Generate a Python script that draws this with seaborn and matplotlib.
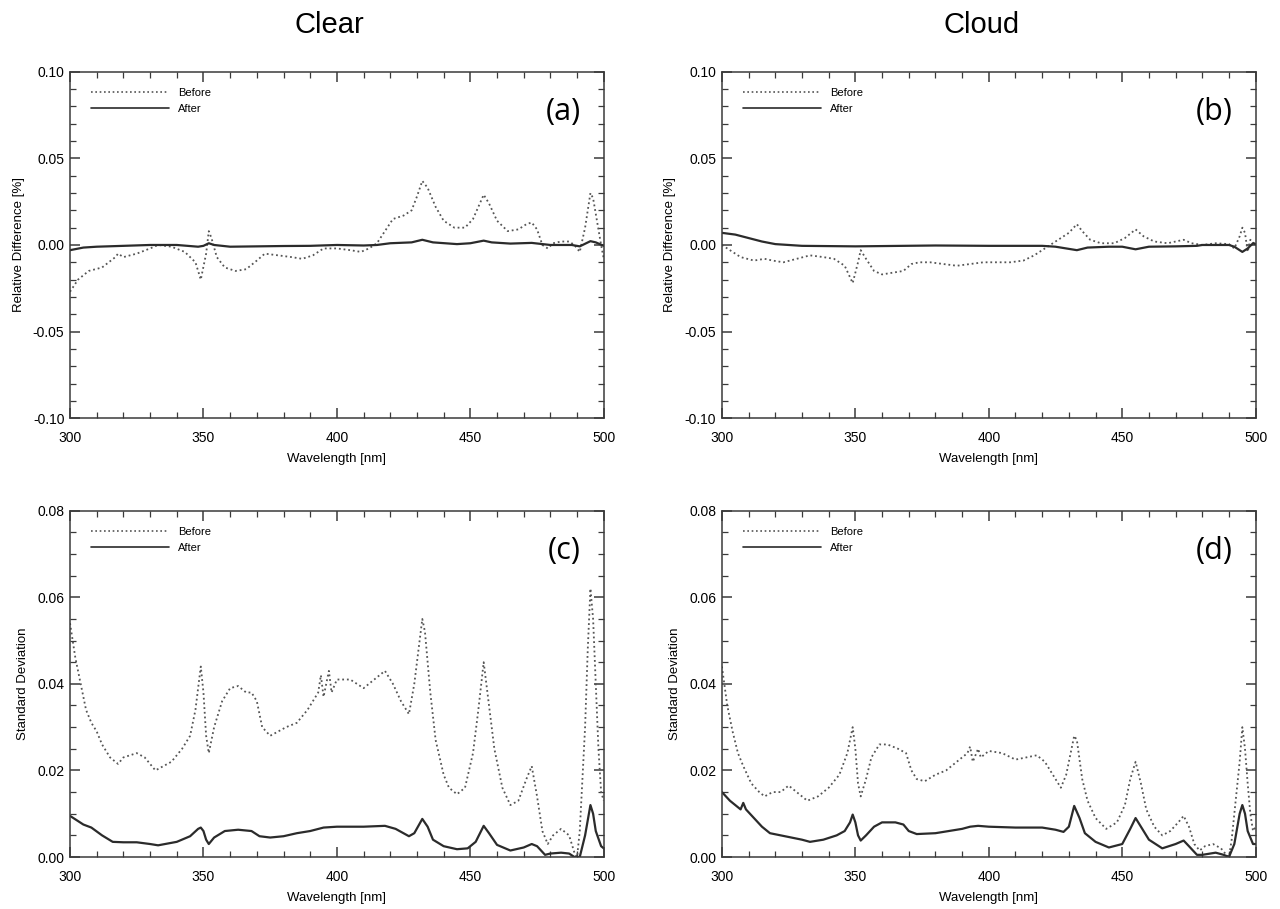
import numpy as np
import pandas as pd

import matplotlib
matplotlib.use("Agg")
import matplotlib.pyplot as plt
from matplotlib.ticker import MultipleLocator, FormatStrFormatter
import seaborn as sns

# ======================================================
# DATA
# ======================================================

# (a) Clear - relative difference
a_before_wl = [300, 303, 307, 312, 317, 318, 320, 325, 330, 333, 338, 343, 347, 349,
               351, 352, 353, 355, 358, 362, 366, 370, 373, 378, 383, 387, 391, 395,
               400, 405, 409, 412, 415, 418, 421, 425, 428, 430, 432, 434, 437, 440,
               444, 448, 451, 453, 455, 457, 460, 464, 468, 471, 473, 475, 477, 479,
               481, 484, 487, 489, 491, 493, 495, 496, 497, 499, 500]
a_before = [-0.027, -0.020, -0.015, -0.013, -0.007, -0.005, -0.007, -0.005, -0.002, 0.000,
            -0.001, -0.004, -0.010, -0.020, -0.005, 0.008, 0.004, -0.007, -0.013, -0.015,
            -0.014, -0.009, -0.005, -0.006, -0.007, -0.008, -0.006, -0.002, -0.002, -0.003,
            -0.004, -0.002, 0.001, 0.008, 0.015, 0.017, 0.020, 0.028, 0.037, 0.033,
            0.022, 0.014, 0.010, 0.010, 0.015, 0.022, 0.029, 0.024, 0.014, 0.008,
            0.009, 0.012, 0.013, 0.009, 0.000, -0.002, 0.001, 0.002, 0.002, 0.000,
            -0.004, 0.010, 0.030, 0.027, 0.018, 0.000, -0.008]
a_after_wl = [300, 305, 310, 320, 330, 340, 348, 350, 352, 354, 360, 370, 380, 390, 400,
              410, 415, 420, 428, 432, 436, 445, 450, 455, 458, 465, 473, 480, 488, 491,
              495, 497, 500]
a_after = [-0.003, -0.0015, -0.001, -0.0005, 0.0, 0.0, -0.001, -0.0005, 0.001, 0.0,
           -0.001, -0.0008, -0.0006, -0.0005, 0.0, -0.0003, 0.0, 0.001, 0.0015, 0.003,
           0.0015, 0.0005, 0.001, 0.0025, 0.0015, 0.0008, 0.0012, 0.0, 0.0, -0.0008,
           0.0022, 0.0015, -0.0005]

# (b) Cloud - relative difference
b_before_wl = [300, 303, 307, 312, 316, 319, 323, 328, 333, 338, 342, 346, 349, 351,
               352, 354, 357, 360, 364, 368, 371, 374, 378, 383, 388, 393, 398, 403,
               408, 413, 417, 420, 423, 426, 430, 433, 435, 438, 442, 447, 451, 455,
               458, 462, 467, 473, 476, 480, 485, 490, 492, 494, 495, 496, 497, 498, 500]
b_before = [0.000, -0.003, -0.007, -0.009, -0.008, -0.009, -0.010, -0.008, -0.006, -0.007,
            -0.008, -0.012, -0.022, -0.010, -0.003, -0.008, -0.015, -0.017, -0.016, -0.015,
            -0.011, -0.010, -0.010, -0.011, -0.012, -0.011, -0.010, -0.010, -0.010, -0.009,
            -0.006, -0.003, 0.000, 0.003, 0.007, 0.012, 0.008, 0.003, 0.001, 0.001,
            0.004, 0.009, 0.005, 0.002, 0.001, 0.003, 0.001, 0.000, 0.001, 0.0005,
            -0.002, 0.005, 0.010, 0.007, -0.004, 0.003, 0.000]
b_after_wl = [300, 305, 310, 315, 320, 325, 330, 350, 380, 400, 420, 425, 433, 437, 445,
              450, 455, 460, 470, 478, 480, 490, 492, 495, 497, 499, 500]
b_after = [0.007, 0.006, 0.004, 0.002, 0.0005, 0.0, -0.0005, -0.0008, -0.0003, -0.0005,
           -0.0005, -0.001, -0.003, -0.0015, -0.001, -0.001, -0.0025, -0.001, -0.0008,
           -0.0005, 0.0, 0.0, -0.001, -0.004, -0.002, 0.001, 0.0005]

# (c) Clear - standard deviation
c_before_wl = [300, 302, 304, 306, 308, 310, 312, 315, 318, 320, 325, 328, 332, 335, 338,
               342, 345, 347, 349, 350, 351, 352, 354, 357, 360, 363, 366, 368, 370, 372,
               375, 378, 381, 385, 389, 393, 394, 395, 397, 398, 400, 405, 410, 414, 418,
               421, 424, 427, 429, 431, 432, 433, 435, 437, 440, 442, 445, 448, 451, 453,
               455, 457, 459, 462, 465, 468, 471, 473, 475, 477, 479, 481, 484, 487, 489,
               490, 491, 492, 493, 494, 495, 496, 497, 498, 499, 500]
c_before = [0.054, 0.046, 0.040, 0.034, 0.031, 0.029, 0.026, 0.023, 0.0215, 0.023,
            0.024, 0.023, 0.020, 0.021, 0.022, 0.025, 0.028, 0.034, 0.044, 0.038,
            0.028, 0.024, 0.030, 0.036, 0.039, 0.0395, 0.038, 0.038, 0.036, 0.030,
            0.028, 0.029, 0.030, 0.031, 0.034, 0.038, 0.042, 0.037, 0.043, 0.038,
            0.041, 0.041, 0.039, 0.041, 0.043, 0.040, 0.036, 0.033, 0.040, 0.050,
            0.055, 0.052, 0.038, 0.027, 0.019, 0.016, 0.0145, 0.016, 0.024, 0.034,
            0.045, 0.035, 0.025, 0.016, 0.012, 0.013, 0.018, 0.021, 0.014, 0.006,
            0.003, 0.005, 0.0065, 0.005, 0.001, 0.000, 0.006, 0.018, 0.030, 0.048,
            0.062, 0.055, 0.040, 0.025, 0.015, 0.013]
c_after_wl = [300, 305, 308, 312, 316, 320, 325, 330, 333, 340, 345, 348, 349, 350, 351,
              352, 354, 358, 363, 368, 371, 375, 380, 385, 390, 395, 400, 410, 418, 422,
              427, 429, 432, 434, 436, 440, 445, 449, 452, 455, 457, 460, 465, 470, 473,
              475, 478, 480, 484, 487, 489, 491, 493, 495, 496, 497, 499, 500]
c_after = [0.0095, 0.0075, 0.0068, 0.005, 0.0035, 0.0034, 0.0034, 0.003, 0.0027, 0.0035,
           0.0048, 0.0065, 0.0068, 0.006, 0.004, 0.003, 0.0045, 0.006, 0.0063, 0.006,
           0.0048, 0.0045, 0.0048, 0.0055, 0.006, 0.0068, 0.007, 0.007, 0.0072, 0.0065,
           0.0048, 0.0055, 0.0088, 0.007, 0.004, 0.0025, 0.0018, 0.002, 0.0035, 0.0072,
           0.0055, 0.0028, 0.0015, 0.0022, 0.003, 0.0025, 0.0005, 0.0008, 0.001, 0.0008,
           0.0, 0.0, 0.005, 0.012, 0.010, 0.006, 0.0025, 0.002]

# (d) Cloud - standard deviation
d_before_wl = [300, 302, 304, 306, 308, 311, 314, 316, 319, 322, 325, 328, 332, 336, 340,
               344, 347, 349, 350, 351, 352, 354, 356, 359, 362, 366, 369, 371, 373, 376,
               380, 384, 388, 392, 393, 394, 396, 397, 400, 405, 410, 414, 418, 421, 424,
               427, 429, 431, 432, 433, 435, 437, 440, 444, 448, 451, 453, 455, 457, 459,
               462, 465, 468, 471, 473, 475, 477, 479, 481, 484, 487, 489, 490, 491, 492,
               494, 495, 496, 497, 498, 499, 500]
d_before = [0.044, 0.035, 0.029, 0.024, 0.021, 0.017, 0.015, 0.014, 0.015, 0.015,
            0.0165, 0.015, 0.013, 0.014, 0.016, 0.019, 0.024, 0.030, 0.025, 0.017,
            0.014, 0.018, 0.023, 0.026, 0.026, 0.025, 0.024, 0.020, 0.018, 0.0175,
            0.019, 0.020, 0.022, 0.024, 0.0255, 0.022, 0.025, 0.023, 0.0245, 0.024,
            0.0225, 0.023, 0.0235, 0.022, 0.019, 0.016, 0.019, 0.025, 0.028, 0.027,
            0.018, 0.013, 0.009, 0.0065, 0.008, 0.012, 0.018, 0.022, 0.017, 0.011,
            0.007, 0.005, 0.006, 0.008, 0.0095, 0.007, 0.003, 0.0015, 0.0025, 0.003,
            0.002, 0.0005, 0.000, 0.004, 0.010, 0.022, 0.030, 0.025, 0.017, 0.010,
            0.006, 0.007]
d_after_wl = [300, 303, 306, 307, 308, 309, 312, 315, 318, 322, 326, 330, 333, 338, 343,
              346, 348, 349, 350, 351, 352, 354, 357, 360, 365, 368, 370, 373, 380, 385,
              390, 393, 396, 400, 410, 420, 425, 428, 430, 432, 434, 436, 440, 445, 450,
              453, 455, 457, 460, 465, 470, 473, 475, 478, 480, 485, 488, 490, 492, 494,
              495, 496, 497, 499, 500]
d_after = [0.015, 0.013, 0.0115, 0.011, 0.0125, 0.011, 0.009, 0.007, 0.0055, 0.005,
           0.0045, 0.004, 0.0035, 0.004, 0.005, 0.006, 0.008, 0.0098, 0.008, 0.005,
           0.0038, 0.005, 0.007, 0.008, 0.008, 0.0075, 0.006, 0.0053, 0.0055, 0.006,
           0.0065, 0.007, 0.0072, 0.007, 0.0068, 0.0068, 0.0063, 0.0058, 0.007, 0.0118,
           0.009, 0.0055, 0.0035, 0.0022, 0.003, 0.0065, 0.009, 0.007, 0.004, 0.002,
           0.003, 0.0038, 0.0025, 0.0005, 0.0005, 0.001, 0.0005, 0.0, 0.003, 0.010,
           0.012, 0.010, 0.006, 0.003, 0.003]

column_titles = ["Clear", "Cloud"]
panel_labels = ["(a)", "(b)", "(c)", "(d)"]

# ======================================================
# STYLE
# ======================================================

sns.set_theme(style="ticks")
plt.rcParams["font.family"] = ["Liberation Sans", "DejaVu Sans"]
plt.rcParams["axes.linewidth"] = 1.1
plt.rcParams["axes.edgecolor"] = "#3a3a3a"
plt.rcParams["text.color"] = "black"
plt.rcParams["axes.labelcolor"] = "black"
plt.rcParams["xtick.labelcolor"] = "black"
plt.rcParams["ytick.labelcolor"] = "black"

BEFORE_COLOR = "#555555"
AFTER_COLOR = "#2b2b2b"


def draw_panel(ax, before_wl, before, after_wl, after, label, ylabel, ylim, major, minor):

    df_before = pd.DataFrame({"wl": before_wl, "val": before})
    df_after = pd.DataFrame({"wl": after_wl, "val": after})

    sns.lineplot(data=df_before, x="wl", y="val", ax=ax, color=BEFORE_COLOR,
                 linestyle=(0, (1, 1.6)), linewidth=1.3, label="Before")
    sns.lineplot(data=df_after, x="wl", y="val", ax=ax, color=AFTER_COLOR,
                 linewidth=1.6, label="After")

    ax.set_xlim(300, 500)
    ax.set_ylim(*ylim)
    ax.xaxis.set_major_locator(MultipleLocator(50))
    ax.xaxis.set_minor_locator(MultipleLocator(10))
    ax.yaxis.set_major_locator(MultipleLocator(major))
    ax.yaxis.set_minor_locator(MultipleLocator(minor))
    ax.yaxis.set_major_formatter(FormatStrFormatter("%.2f"))

    ax.tick_params(which="both", direction="in", top=True, right=True,
                   labelsize=10, color="#3a3a3a")
    ax.tick_params(which="major", length=7, width=1.1)
    ax.tick_params(axis="x", which="major", pad=9)
    ax.tick_params(axis="y", which="major", pad=4)
    ax.tick_params(which="minor", length=4, width=0.9)

    ax.set_xlabel("Wavelength [nm]", fontsize=9.5, labelpad=6)
    ax.set_ylabel(ylabel, fontsize=9.5, labelpad=6)

    leg = ax.legend(loc="upper left", bbox_to_anchor=(0.025, 0.975), frameon=False,
                    fontsize=8, handlelength=7, handletextpad=0.8,
                    labelspacing=0.55, borderaxespad=0.3)
    for line in leg.get_lines():
        line.set_linewidth(1.2)

    ax.text(0.957, 0.884, label, transform=ax.transAxes, ha="right", va="center",
            fontsize=22, family=["Open Sans", "DejaVu Sans"])


# ======================================================
# FIGURE
# ======================================================

fig = plt.figure(figsize=(12.8, 9.09), dpi=100)

left_cols = [0.0547, 0.564]
width = 0.417
bottoms = [0.540, 0.0572]
height = 0.381

panels = [
    (a_before_wl, a_before, a_after_wl, a_after, "Relative Difference [%]", (-0.1, 0.1), 0.05, 0.01),
    (b_before_wl, b_before, b_after_wl, b_after, "Relative Difference [%]", (-0.1, 0.1), 0.05, 0.01),
    (c_before_wl, c_before, c_after_wl, c_after, "Standard Deviation", (0.0, 0.08), 0.02, 0.005),
    (d_before_wl, d_before, d_after_wl, d_after, "Standard Deviation", (0.0, 0.08), 0.02, 0.005),
]

for i, (bw, bv, aw, av, ylabel, ylim, major, minor) in enumerate(panels):
    row, col = divmod(i, 2)
    ax = fig.add_axes([left_cols[col], bottoms[row], width, height])
    draw_panel(ax, bw, bv, aw, av, panel_labels[i], ylabel, ylim, major, minor)

for col, title in enumerate(column_titles):
    fig.text(left_cols[col] + width / 2 - 0.006, 0.972, title, ha="center", va="center",
             fontsize=21)

fig.savefig("out.png", dpi=100)
